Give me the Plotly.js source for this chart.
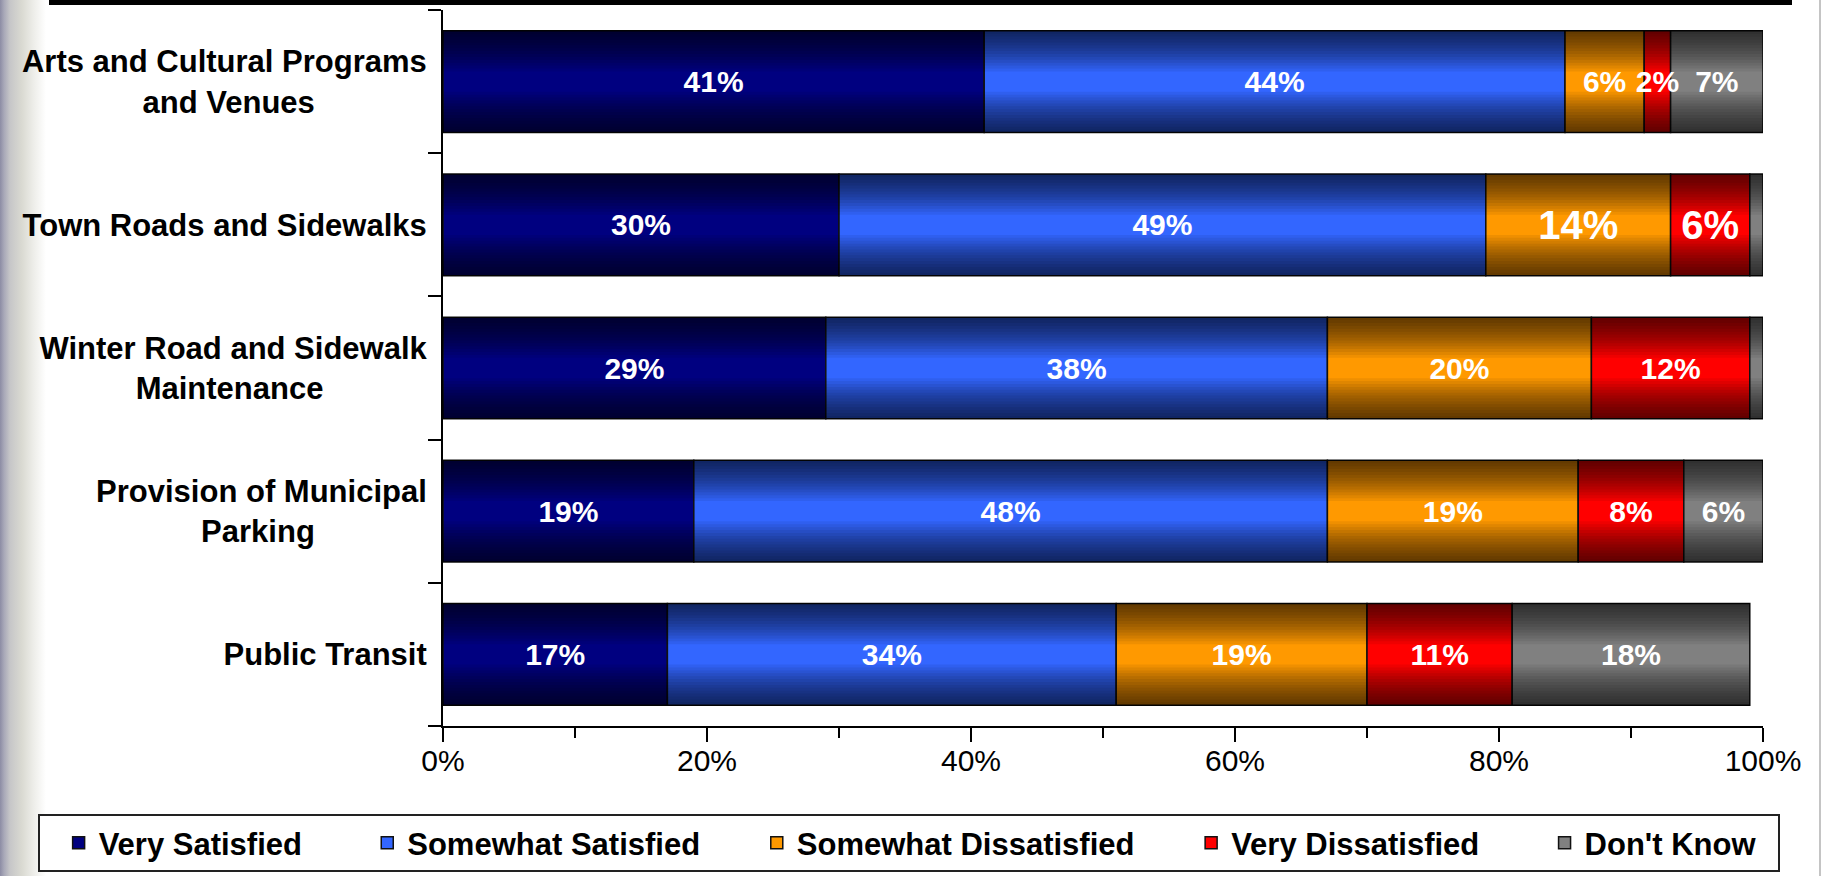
<!DOCTYPE html>
<html><head><meta charset="utf-8">
<script src="https://cdn.plot.ly/plotly-3.0.1.min.js"></script>
<style>
html,body{margin:0;padding:0;}
body{width:1822px;height:876px;overflow:hidden;background:
 linear-gradient(to left, #ffffff 0px, #ffffff 1px, #c4c4c4 1px, #c4c4c4 3px, rgba(255,255,255,0) 3px),
 linear-gradient(to right, #8c8ca4 0px, #a8a8b8 4px, #c6c6c8 10px, #dadad2 22px, #eeeeea 34px, #ffffff 46px, #ffffff 100%);}
#chart{width:1822px;height:876px;}
</style></head><body><div id="chart"></div>
<script>
// ---- data ----
const categories = ['Arts and Cultural Programs and Venues', 'Town Roads and Sidewalks', 'Winter Road and Sidewalk Maintenance', 'Provision of Municipal Parking', 'Public Transit'];
const categoryLines = [['Arts and Cultural Programs', 'and Venues'], ['Town Roads and Sidewalks'], ['Winter Road and Sidewalk', 'Maintenance'], ['Provision of Municipal', 'Parking'], ['Public Transit']];
const seriesNames = ['Very Satisfied', 'Somewhat Satisfied', 'Somewhat Dissatisfied', 'Very Dissatisfied', "Don't Know"];
const verySatisfied = [41, 30, 29, 19, 17];
const somewhatSatisfied = [44, 49, 38, 48, 34];
const somewhatDissatisfied = [6, 14, 20, 19, 19];
const veryDissatisfied = [2, 6, 12, 8, 11];
const dontKnow = [7, 1, 1, 6, 18];
const xTickValues = [0, 20, 40, 60, 80, 100];
const xTickLabels = ['0%', '20%', '40%', '60%', '80%', '100%'];

// ---- styles ----
const seriesValues = [verySatisfied, somewhatSatisfied, somewhatDissatisfied, veryDissatisfied, dontKnow];
const colors = ['#000080', '#3366FF', '#FF9900', '#FF0000', '#808080'];
const FONT = 'Liberation Sans, Arial, sans-serif';
const FS = 30, FS_CAT = 31, FS_LEG = 31;
const BAR_W = 0.71;
const legendPad = [7, 6, 6, 7, 2];
const emphasized = {'Town Roads and Sidewalks': ['Somewhat Dissatisfied', 'Very Dissatisfied']};

const ctx = document.createElement('canvas').getContext('2d');
ctx.font = 'bold ' + FS_CAT + 'px Liberation Sans';
const nb = '\u00A0';
const nbW = ctx.measureText(nb).width || FS_CAT * 0.278;
function centerLines(lines) {
  const widths = lines.map(l => ctx.measureText(l).width);
  const maxW = Math.max(...widths);
  return lines.map((l, i) => l + nb.repeat(Math.round((maxW - widths[i]) / 2 / nbW))).join('<br>');
}
const tickText = categoryLines.map(centerLines);

const barTraces = [], textTraces = [];
const cum = categories.map(() => 0);
seriesValues.forEach((vals, si) => {
  const base = cum.slice();
  vals.forEach((v, i) => { cum[i] += v; });
  barTraces.push({
    type: 'bar', orientation: 'h', name: seriesNames[si] + nb.repeat(legendPad[si]),
    y: categories, x: vals, base: base, width: BAR_W,
    marker: {color: colors[si], line: {color: '#111111', width: 1.5}},
    hoverinfo: 'skip'
  });
  textTraces.push({
    type: 'bar', orientation: 'h', y: categories, x: vals, base: base, width: BAR_W, showlegend: false,
    marker: {color: 'rgba(0,0,0,0)', line: {width: 0}},
    text: vals.map(v => v >= 2 ? v + '%' : ''),
    textposition: 'inside', insidetextanchor: 'middle', textangle: 0, constraintext: 'none', cliponaxis: false,
    textfont: {family: FONT, color: '#FFFFFF', weight: 'bold',
      size: categories.map(c => (emphasized[c] || []).includes(seriesNames[si]) ? 40 : FS)},
    hoverinfo: 'skip'
  });
});
// nested shading strips from each long edge, giving the bars a cylindrical gradient
const shadeTraces = [];
const N = 14, ramp = 0.40 * BAR_W, h = ramp / N, a = 1 - Math.pow(0.4, 1 / N);
for (let k = 1; k <= N; k++) {
  const w = k * h;
  [-BAR_W / 2, BAR_W / 2 - w].forEach(off => {
    shadeTraces.push({
      type: 'bar', orientation: 'h', y: categories, x: cum.slice(), base: categories.map(() => 0),
      width: w, offset: off, marker: {color: 'rgba(0,0,0,' + a.toFixed(4) + ')', line: {width: 0}},
      showlegend: false, hoverinfo: 'skip'
    });
  });
}

const L = 443, R = 59, T = 10, B = 150;
const pw = 1822 - L - R, ph = 876 - T - B;
const px2x = px => (px - L) / pw;
const py2y = py => (876 - B - py) / ph;

const layout = {
  width: 1822, height: 876,
  margin: {l: L, r: R, t: T, b: B, autoexpand: false},
  paper_bgcolor: 'rgba(0,0,0,0)', plot_bgcolor: 'rgba(0,0,0,0)',
  barmode: 'overlay',
  font: {family: FONT, size: FS, color: '#000000'},
  xaxis: {range: [0, 100], tickvals: xTickValues, ticktext: xTickLabels, showgrid: false, zeroline: false,
    showline: true, linecolor: '#000000', linewidth: 2, ticks: 'outside', ticklen: 14, tickwidth: 2, tickcolor: '#000000',
    ticklabelstandoff: -7,
    minor: {dtick: 10, ticks: 'outside', ticklen: 10, tickwidth: 2, tickcolor: '#000000', showgrid: false},
    tickfont: {family: FONT, size: FS, color: '#000000'}, fixedrange: true},
  yaxis: {type: 'category', autorange: 'reversed', tickvals: categories, ticktext: tickText,
    tickson: 'boundaries', ticks: 'outside', ticklen: 13, tickwidth: 2, tickcolor: '#000000', ticklabelstandoff: 8,
    showline: true, linecolor: '#000000', linewidth: 2, showgrid: false, zeroline: false,
    tickfont: {family: FONT, size: FS_CAT, color: '#000000', weight: 'bold'}, fixedrange: true},
  legend: {orientation: 'h', x: px2x(38), y: py2y(814), xanchor: 'left', yanchor: 'top',
    bgcolor: '#FFFFFF', bordercolor: '#222222', borderwidth: 2,
    title: {text: nb, side: 'left', font: {family: FONT, size: FS_LEG}},
    font: {family: FONT, size: FS_LEG, color: '#000000', weight: 'bold'}, traceorder: 'normal'},
  shapes: [
    {type: 'rect', xref: 'paper', yref: 'paper', x0: px2x(49), x1: px2x(1792), y0: py2y(5), y1: py2y(0),
      fillcolor: '#000000', line: {width: 0}, layer: 'above'}
  ],
  showlegend: true
};
Plotly.newPlot('chart', barTraces.concat(shadeTraces, textTraces), layout, {displayModeBar: false, staticPlot: true});
</script></body></html>
